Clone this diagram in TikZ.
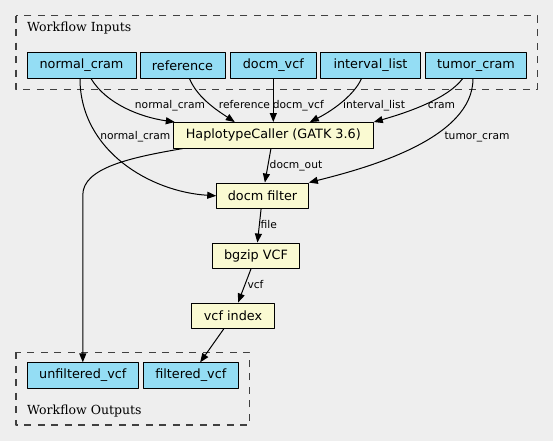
\documentclass[tikz,border=0pt]{standalone}
\usepackage{fontspec}
\setmainfont{DejaVu Sans}
\newfontfamily\clusterfont{DejaVu Serif}
\usepackage{xcolor}
\usetikzlibrary{arrows.meta}
\definecolor{bgcol}{HTML}{EEEEEE}
\definecolor{iocol}{HTML}{94DDF4}
\definecolor{stepcol}{HTML}{FAFAD2}
\tikzset{
  every picture/.style={line join=round, line cap=round, >={Triangle[length=9pt,width=7pt]}},
  io/.style={draw, line width=1pt, fill=iocol, minimum height=25.5pt, inner sep=2pt, font=\fontsize{12.8}{15}\selectfont},
  stepbox/.style={draw, line width=1pt, fill=stepcol, minimum height=25.5pt, inner sep=2pt, font=\fontsize{12.8}{15}\selectfont},
  lbl/.style={inner sep=0pt, anchor=base, font=\fontsize{10.7}{12}\selectfont},
  cluster/.style={draw=black!75, line width=1.3pt, line cap=butt, dash pattern=on 7pt off 6.5pt},
  clusterlbl/.style={inner sep=0pt, anchor=base west, font=\clusterfont\fontsize{12.5}{15}\selectfont},
  edge/.style={->, line width=1pt},
}

\begin{document}
\begin{tikzpicture}[x=1pt,y=-1pt]
\fill[bgcol] (0,0) rectangle (553,441);
\draw[cluster] (16,15.7) rectangle (537.3,89.3);
\draw[cluster] (16,352.3) rectangle (249.3,425);
\node[clusterlbl] (inlbl) at (27,31.5) {Workflow Inputs};
\node[clusterlbl] (outlbl) at (27,414) {Workflow Outputs};
\foreach \n/\x/\w/\t in {nc/81.5/109/normal\_cram, rf/182.5/85/reference, dv/273.3/86/docm\_vcf, il/370.5/99.3/interval\_list, tc/476/101.7/tumor\_cram}
  \node[io, minimum width=\w pt] (\n) at (\x,65.3) {\t};
\foreach \n/\x/\w/\t in {uv/82.8/111/unfiltered\_vcf, fv/190.8/95/filtered\_vcf}
  \node[io, minimum width=\w pt] (\n) at (\x,375.6) {\t};
\node[stepbox, minimum width=200pt] (hc) at (273.3,135.3) {HaplotypeCaller (GATK 3.6)};
\node[stepbox, minimum width=91.6pt] (df) at (262.5,195.8) {docm filter};
\node[stepbox, minimum width=86.3pt] (bg) at (256,255.8) {bgzip VCF};
\node[stepbox, minimum width=82.6pt] (vi) at (233,315.8) {vcf index};
\draw[edge] ([xshift=9.5pt]nc.south) .. controls +(15,25) and +(-35,-5) .. ([xshift=2pt]hc.north west);
\draw[edge] ([xshift=7pt]rf.south) .. controls +(8,20) and +(-15,-10) .. ([xshift=62pt]hc.north west);
\draw[edge] (dv) -- (hc);
\draw[edge] ([xshift=-9pt]il.south) .. controls +(-8,18) and +(20,-10) .. ([xshift=-64pt]hc.north east);
\draw[edge] ([xshift=-13.3pt]tc.south) .. controls +(-15,20) and +(35,-10) .. (hc.north east);
\draw[edge] ([xshift=-3pt]tc.south) .. controls +(0,60) and +(60,-15) .. (df.north east);
\draw[edge] ([xshift=-1.5pt]nc.south) .. controls +(0,72) and +(-66,-4) .. (df.west);
\draw[edge] (hc) -- (df);
\draw[edge] ([xshift=10pt]hc.south west) .. controls +(-53,9) and +(0,-27) .. (uv.north |- 0,195) -- (uv);
\draw[edge] (df) -- (bg);
\draw[edge] (bg) -- (vi);
\draw[edge] (vi) -- (fv);
\node[lbl] (l-nc) at (170,108.7) {normal\_cram};
\node[lbl] (l-rf) at (244.5,108.7) {reference};
\node[lbl] (l-dv) at (298.3,108.7) {docm\_vcf};
\node[lbl] (l-il) at (374,108.7) {interval\_list};
\node[lbl] (l-cr) at (441.5,108.7) {cram};
\node[lbl] (l-tc) at (477,139.3) {tumor\_cram};
\node[lbl] (l-nc2) at (135.3,139.3) {normal\_cram};
\node[lbl] (l-do) at (296,168.3) {docm\_out};
\node[lbl] (l-fi) at (268.7,228.3) {file};
\node[lbl] (l-vc) at (255.5,288.3) {vcf};
\end{tikzpicture}
\end{document}
